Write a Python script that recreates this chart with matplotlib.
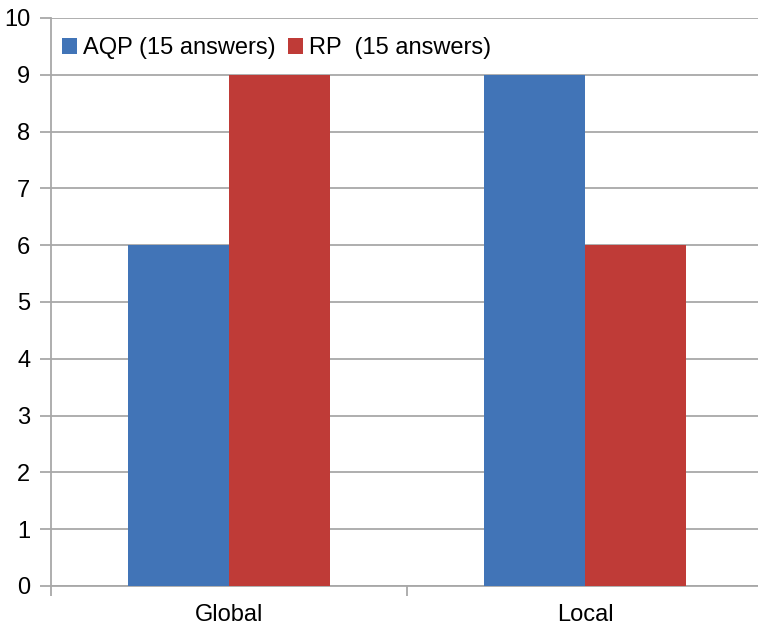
import matplotlib.pyplot as plt
import numpy as np

categories = ['Global', 'Local']
aqp = [6, 9]
rp = [9, 6]
series_labels = ['AQP (15 answers)', 'RP  (15 answers)']

plt.rcParams['font.family'] = ['Liberation Sans', 'DejaVu Sans']

fig = plt.figure(figsize=(7.58, 6.30), dpi=100)
# axes run slightly past the right edge, as in the reference
ax = fig.add_axes([51 / 758, 1 - 586 / 630, 712 / 758, (586 - 18) / 630])

x = np.arange(len(categories))
w = 0.284
blue = '#4174b7'
red = '#bf3b37'
ax.bar(x - w / 2, aqp, w, color=blue, label=series_labels[0], zorder=3)
ax.bar(x + w / 2, rp, w, color=red, label=series_labels[1], zorder=3)

ax.set_xlim(-0.5, len(categories) - 0.5)
ax.set_ylim(0, 10)
ax.set_yticks(range(0, 11))
ax.yaxis.grid(True, color='#a8a8a8', linewidth=1.3, zorder=0)

ax.set_xticks(x)
ax.set_xticklabels(categories)
ax.set_xticks(np.arange(-0.5, len(categories)), minor=True)
ax.tick_params(axis='x', which='major', length=0, labelsize=17, pad=13)
ax.tick_params(axis='x', which='minor', length=7, color='#a8a8a8', width=1.3)
ax.tick_params(axis='y', length=8, color='#a8a8a8', width=1.3, labelsize=17, pad=7)

for side in ['top', 'right']:
    ax.spines[side].set_visible(False)
for side in ['left', 'bottom']:
    ax.spines[side].set_color('#a8a8a8')
    ax.spines[side].set_linewidth(1.3)

ax.legend(loc='upper left', bbox_to_anchor=(-0.008, 0.995), ncol=2, frameon=False,
          fontsize=17, handlelength=0.65, handleheight=0.65, handletextpad=0.25,
          columnspacing=0.5, borderaxespad=0.3)

fig.savefig('out.png', dpi=100)
